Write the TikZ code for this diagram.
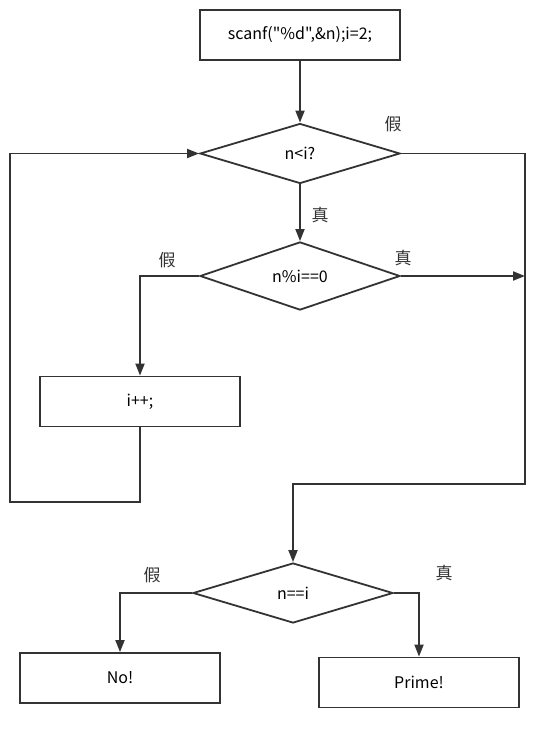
\documentclass[tikz,border=0pt]{standalone}
\usepackage{fontspec}
\setmainfont{Noto Sans CJK SC}[Ligatures=TeXOff]
\usepackage{xcolor}
\usetikzlibrary{shapes.geometric,arrows.meta,positioning,calc}
\definecolor{linegray}{HTML}{333333}

\begin{document}
\begin{tikzpicture}[
    x=1pt, y=-1pt,
    font=\fontsize{16}{18}\selectfont,
    process/.style={rectangle, draw=linegray, line width=1.8pt, minimum width=200pt, minimum height=50pt, inner sep=0pt},
    decision/.style={diamond, draw=linegray, line width=1.8pt, minimum width=200pt, minimum height=60pt, inner sep=0pt},
    label/.style={font=\fontsize{17}{19}\selectfont, text=black!80},
    arrow/.style={-{Triangle[width=9pt,length=12pt]}, draw=linegray, line width=1.8pt}
]
\useasboundingbox (0,0) rectangle (549,733);

% Nodes
\node[process] (start) at (300,35) {scanf("\%d",\&n);i=2;};
\node[decision] (lt) at (300,153.5) {n<i?};
\node[decision] (mod) at (300,276) {n\%i==0};
\node[process] (inc) at (140,401.5) {i++;};
\node[decision] (eq) at (293,593) {n==i};
\node[process] (no) at (120,678) {No!};
\node[process] (prime) at (419,682.5) {Prime!};

% Corner points
\coordinate (rjoin) at (525,484);
\coordinate (lback) at (10,502);

% Connections
\draw[arrow] (start) -- (lt);
\draw[arrow] (lt.east) -| (rjoin) -| (eq.north);
\draw[arrow] (lt) -- (mod);
\draw[arrow] (mod.east) -- (mod.east -| rjoin);
\draw[arrow] (mod.west) -| (inc.north);
\draw[arrow] (inc.south) |- (lback) |- (lt.west);
\draw[arrow] (eq.west) -| (no.north);
\draw[arrow] (eq.east) -| (prime.north);

% Branch labels
\node[label] at (393,124) {假};
\node[label] at (320,215) {真};
\node[label] at (167,260) {假};
\node[label] at (403,258) {真};
\node[label] at (152,575) {假};
\node[label] at (444,573) {真};

\end{tikzpicture}
\end{document}
